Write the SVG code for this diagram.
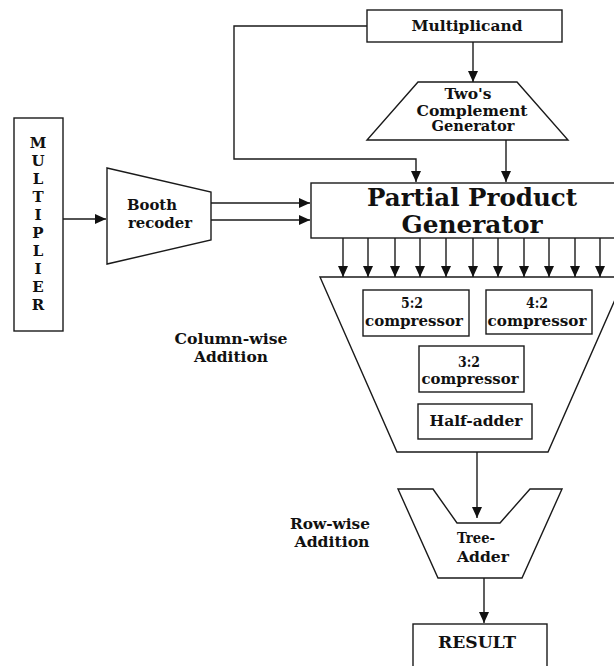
<svg xmlns="http://www.w3.org/2000/svg" width="614" height="666" viewBox="0 0 614 666">
<style>
  .s{fill:#fff;stroke:#1a1a1a;stroke-width:1.4}
  .c{fill:none;stroke:#1a1a1a;stroke-width:1.4}
  text{font-family:"DejaVu Serif","Liberation Serif",serif;font-weight:bold;fill:#111;text-anchor:middle}
  .t{font-size:14px}
  .m{font-size:15px}
  .b{font-size:24px}
</style>
<defs>
  <marker id="ah" markerUnits="userSpaceOnUse" markerWidth="12" markerHeight="10" refX="11" refY="5" orient="auto">
    <path d="M0,0 L11,5 L0,10 z" fill="#111"/>
  </marker>
</defs>
<rect width="614" height="666" fill="#fff"/>

<g id="multiplier">
  <rect class="s" x="14" y="118" width="49" height="213"/>
  <text class="m" x="38" y="148">M</text>
  <text class="m" x="38" y="166">U</text>
  <text class="m" x="38" y="184">L</text>
  <text class="m" x="38" y="202">T</text>
  <text class="m" x="38" y="220">I</text>
  <text class="m" x="38" y="238">P</text>
  <text class="m" x="38" y="256">L</text>
  <text class="m" x="38" y="274">I</text>
  <text class="m" x="38" y="292">E</text>
  <text class="m" x="38" y="310">R</text>
</g>

<g id="booth">
  <polygon class="s" points="107,168 211,192 211,240 107,264"/>
  <text class="t" x="152" y="210" textLength="50" lengthAdjust="spacingAndGlyphs">Booth</text>
  <text class="t" x="160" y="228" textLength="64" lengthAdjust="spacingAndGlyphs">recoder</text>
</g>

<g id="multiplicand">
  <rect class="s" x="367" y="10" width="195" height="32"/>
  <text class="t" x="467" y="31" textLength="111" lengthAdjust="spacingAndGlyphs">Multiplicand</text>
</g>

<g id="twos">
  <polygon class="s" points="418,82 517,82 568,140 367,140"/>
  <text class="t" x="468" y="99" textLength="47" lengthAdjust="spacingAndGlyphs">Two's</text>
  <text class="t" x="472" y="116" textLength="111" lengthAdjust="spacingAndGlyphs">Complement</text>
  <text class="t" x="473" y="131" textLength="83" lengthAdjust="spacingAndGlyphs">Generator</text>
</g>

<g id="ppg">
  <rect class="s" x="311" y="183" width="306" height="55"/>
  <text class="b" x="472" y="206" textLength="210" lengthAdjust="spacingAndGlyphs">Partial Product</text>
  <text class="b" x="472" y="233" textLength="141" lengthAdjust="spacingAndGlyphs">Generator</text>
</g>

<g id="column-adder">
  <polygon class="s" points="320,277 625,277 548,452 397,452"/>
</g>

<g id="c52">
  <rect class="s" x="363" y="290" width="106" height="46"/>
  <text class="t" x="412" y="308" textLength="22" lengthAdjust="spacingAndGlyphs">5:2</text>
  <text class="t" x="414" y="326" textLength="98" lengthAdjust="spacingAndGlyphs">compressor</text>
</g>
<g id="c42">
  <rect class="s" x="486" y="290" width="106" height="44"/>
  <text class="t" x="537" y="308" textLength="22" lengthAdjust="spacingAndGlyphs">4:2</text>
  <text class="t" x="537" y="326" textLength="99" lengthAdjust="spacingAndGlyphs">compressor</text>
</g>
<g id="c32">
  <rect class="s" x="419" y="346" width="105" height="46"/>
  <text class="t" x="469" y="367" textLength="22" lengthAdjust="spacingAndGlyphs">3:2</text>
  <text class="t" x="470" y="384" textLength="97" lengthAdjust="spacingAndGlyphs">compressor</text>
</g>
<g id="halfadder">
  <rect class="s" x="418" y="404" width="114" height="35"/>
  <text class="t" x="476" y="426" textLength="93" lengthAdjust="spacingAndGlyphs">Half-adder</text>
</g>

<g id="column-label">
  <text class="t" x="231" y="344" textLength="113" lengthAdjust="spacingAndGlyphs">Column-wise</text>
  <text class="t" x="231" y="362" textLength="74" lengthAdjust="spacingAndGlyphs">Addition</text>
</g>
<g id="row-label">
  <text class="t" x="330" y="529" textLength="80" lengthAdjust="spacingAndGlyphs">Row-wise</text>
  <text class="t" x="332" y="547" textLength="75" lengthAdjust="spacingAndGlyphs">Addition</text>
</g>

<g id="tree-adder">
  <polygon class="s" points="398,489 433,489 457,523 500,523 530,489 562,489 522,578 438,578"/>
  <text class="t" x="476" y="543" textLength="38" lengthAdjust="spacingAndGlyphs">Tree-</text>
  <text class="t" x="483" y="562" textLength="52" lengthAdjust="spacingAndGlyphs">Adder</text>
</g>

<g id="result">
  <rect class="s" x="413" y="624" width="134" height="60"/>
  <text x="477" y="648" font-size="16" textLength="78" lengthAdjust="spacingAndGlyphs">RESULT</text>
</g>

<g id="connectors">
  <line class="c" x1="63" y1="219" x2="106" y2="219" marker-end="url(#ah)"/>
  <line class="c" x1="211" y1="203" x2="310" y2="203" marker-end="url(#ah)"/>
  <line class="c" x1="211" y1="220" x2="310" y2="220" marker-end="url(#ah)"/>
  <polyline class="c" points="367,26 234,26 234,159 416,159 416,182" marker-end="url(#ah)"/>
  <line class="c" x1="473" y1="42" x2="473" y2="82" marker-end="url(#ah)"/>
  <line class="c" x1="506" y1="140" x2="506" y2="182" marker-end="url(#ah)"/>
  <line class="c" x1="343" y1="238" x2="343" y2="277" marker-end="url(#ah)"/>
  <line class="c" x1="368" y1="238" x2="368" y2="277" marker-end="url(#ah)"/>
  <line class="c" x1="395" y1="238" x2="395" y2="277" marker-end="url(#ah)"/>
  <line class="c" x1="420" y1="238" x2="420" y2="277" marker-end="url(#ah)"/>
  <line class="c" x1="446" y1="238" x2="446" y2="277" marker-end="url(#ah)"/>
  <line class="c" x1="473" y1="238" x2="473" y2="277" marker-end="url(#ah)"/>
  <line class="c" x1="498" y1="238" x2="498" y2="277" marker-end="url(#ah)"/>
  <line class="c" x1="524" y1="238" x2="524" y2="277" marker-end="url(#ah)"/>
  <line class="c" x1="549" y1="238" x2="549" y2="277" marker-end="url(#ah)"/>
  <line class="c" x1="575" y1="238" x2="575" y2="277" marker-end="url(#ah)"/>
  <line class="c" x1="600" y1="238" x2="600" y2="277" marker-end="url(#ah)"/>
  <line class="c" x1="477" y1="452" x2="477" y2="518" marker-end="url(#ah)"/>
  <line class="c" x1="484" y1="578" x2="484" y2="623" marker-end="url(#ah)"/>
</g>
</svg>
